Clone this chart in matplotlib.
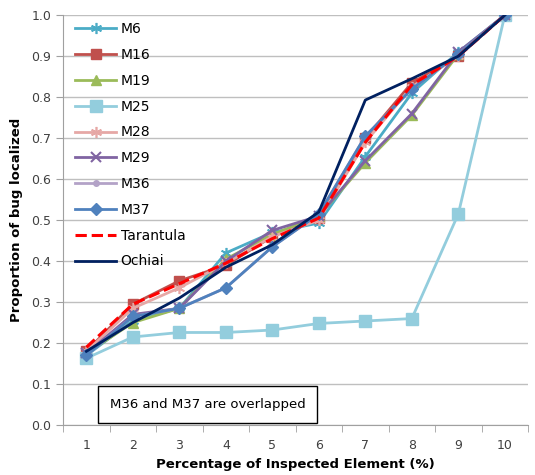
import matplotlib.pyplot as plt
from matplotlib.ticker import MultipleLocator, FormatStrFormatter

# data
x = [1, 2, 3, 4, 5, 6, 7, 8, 9, 10]
m6 = [0.170, 0.255, 0.285, 0.420, 0.470, 0.493, 0.655, 0.810, 0.910, 1.0]
m16 = [0.180, 0.295, 0.352, 0.390, 0.460, 0.505, 0.700, 0.835, 0.900, 1.0]
m19 = [0.175, 0.250, 0.285, 0.405, 0.465, 0.510, 0.640, 0.756, 0.905, 1.0]
m25 = [0.163, 0.215, 0.226, 0.226, 0.232, 0.248, 0.254, 0.260, 0.515, 1.0]
m28 = [0.180, 0.285, 0.335, 0.395, 0.460, 0.500, 0.690, 0.825, 0.900, 1.0]
m29 = [0.175, 0.270, 0.285, 0.400, 0.475, 0.510, 0.645, 0.760, 0.910, 1.0]
m36 = [0.170, 0.265, 0.285, 0.335, 0.435, 0.515, 0.705, 0.820, 0.905, 1.0]
m37 = [0.170, 0.265, 0.285, 0.335, 0.435, 0.515, 0.705, 0.820, 0.905, 1.0]
tarantula = [0.190, 0.295, 0.345, 0.395, 0.455, 0.505, 0.690, 0.830, 0.900, 1.0]
ochiai = [0.180, 0.250, 0.310, 0.385, 0.440, 0.520, 0.793, 0.845, 0.900, 1.0]

fig = plt.figure(figsize=(5.35, 4.75), dpi=100)
ax = fig.add_axes([0.118, 0.105, 0.869, 0.863])

star = (6, 2, 0)  # asterisk like Excel's marker
ax.plot(x, m6, color='#4BACC6', marker=star, markersize=8, mew=1.2, lw=2, label='M6')
ax.plot(x, m16, color='#C0504D', marker='s', markersize=7, lw=2, label='M16')
ax.plot(x, m19, color='#9BBB59', marker='^', markersize=7, lw=2, label='M19')
ax.plot(x, m25, color='#93CDDD', marker='s', markersize=9, lw=2, label='M25')
ax.plot(x, m28, color='#E6A8A6', marker=star, markersize=8, mew=1.2, lw=2, label='M28')
ax.plot(x, m29, color='#8064A2', marker='x', markersize=7, mew=1.5, lw=2, label='M29')
ax.plot(x, m36, color='#B3A2C7', marker='o', markersize=4, lw=2, label='M36')
ax.plot(x, m37, color='#4F81BD', marker='D', markersize=6, lw=2, label='M37')
ax.plot(x, tarantula, color='#FF0000', ls='--', lw=2.2, label='Tarantula')
ax.plot(x, ochiai, color='#002060', lw=2, label='Ochiai')

ax.set_xlim(0.5, 10.5)
ax.set_ylim(0, 1.0)
ax.set_xticks(x)
ax.xaxis.set_minor_locator(MultipleLocator(1, offset=0.5))
ax.tick_params(axis='x', which='major', length=0, pad=10, labelsize=9, labelcolor='#404040')
ax.tick_params(axis='x', which='minor', length=5, color='#A0A0A0', direction='out')
ax.yaxis.set_major_locator(MultipleLocator(0.1))
ax.yaxis.set_major_formatter(FormatStrFormatter('%.1f'))
ax.tick_params(axis='y', length=5, color='#A0A0A0', labelsize=9, labelcolor='#404040')

ax.grid(axis='y', color='#BFBFBF', lw=1)
ax.set_axisbelow(True)
for s in ['top', 'right']:
    ax.spines[s].set_visible(False)
for s in ['left', 'bottom']:
    ax.spines[s].set_color('#A0A0A0')

ax.set_xlabel('Percentage of Inspected Element (%)', fontsize=9.5, fontweight='bold', labelpad=4)
ax.set_ylabel('Proportion of bug localized', fontsize=9.5, fontweight='bold', labelpad=6)

ax.legend(loc='upper left', frameon=False, fontsize=10, handlelength=3.0,
          labelspacing=0.85, borderaxespad=0.1, handletextpad=0.3,
          bbox_to_anchor=(0.01, 1.0))

ax.text(1.5, 0.05, 'M36 and M37 are overlapped', fontsize=9.5, va='center',
        bbox=dict(boxstyle='square,pad=0.9', fc='white', ec='black', lw=1))

plt.savefig('out.png')
